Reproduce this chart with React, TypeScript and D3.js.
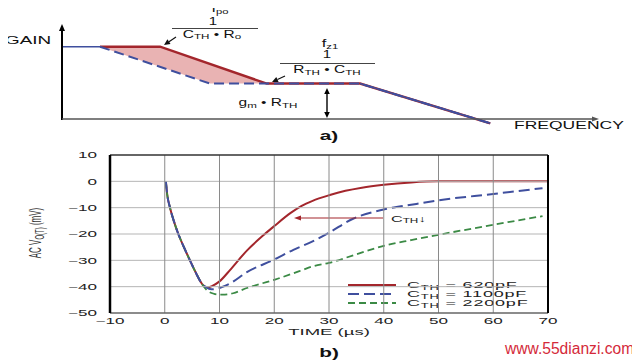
import React from "react";
import * as d3 from "d3";

// ---------- Panel a (schematic gain vs frequency) ----------
const topRedPts: [number, number][] = [[7.1, 10], [18.3, 10], [38.2, 4.9], [55.6, 4.9], [79.9, -0.6]];
const topBluePts: [number, number][] = [[7.1, 10], [27.6, 4.9], [55.6, 4.9], [79.9, -0.6]];
const topBlueFlat: [number, number][] = [[0, 10], [7.1, 10]];
const topFill: [number, number][] = [[7.1, 10], [18.3, 10], [38.2, 4.9], [27.6, 4.9]];

// ---------- Panel b (transient) ----------
const xTicks = [-10, 0, 10, 20, 30, 40, 50, 60, 70];
const yTicks = [10, 0, -10, -20, -30, -40, -50];
const startDrop: [number, number][] = [[0.2, 0], [0.45, -5], [0.96, -10], [1.65, -15], [2.48, -20], [3.5, -25], [4.6, -30], [5.75, -35]];
const red620: [number, number][] = [...startDrop, [6.6, -38.3], [7.35, -40], [7.9, -40.2], [8.7, -39.7], [10, -38], [12, -33.5], [15, -26.3], [18, -20.5], [20, -17], [23, -12], [25, -9.3], [27, -7.4], [30, -5.3], [33, -3.6], [36, -2.4], [40, -1.3], [45, -0.4], [50, 0], [60, 0], [70, 0]];
const blue1100: [number, number][] = [...startDrop, [6.6, -38.3], [7.6, -40.3], [8.5, -41], [9.5, -40.8], [10, -40.5], [12, -38.7], [15, -34.5], [20, -29.7], [23.5, -26], [27, -22.8], [30, -19.5], [34.4, -14.2], [40, -10.7], [45, -8.9], [50, -7.2], [60, -4.8], [69, -2.6]];
const green2200: [number, number][] = [...startDrop, [6.8, -39], [7.8, -41.5], [9, -42.7], [10, -43], [11, -43], [12.5, -42.5], [15, -40.5], [20, -37.4], [25, -33.8], [27, -32.3], [30, -31], [35, -27.7], [40, -24.5], [45, -22.3], [50, -20.3], [60, -16.5], [69, -13.2]];
const legendLabels = ["620pF", "1100pF", "2200pF"];

const RED = "#a3262c";
const BLUE = "#3f4f9e";
const GREEN = "#3b8a45";
const FONT = "'Liberation Sans', Arial, sans-serif";

function T({ x, y, sx = 1.8, size = 9, anchor = "start", weight = "normal", fill = "#222", rot = 0, children, ls = 0 }: any) {
  return (
    <text
      transform={`translate(${x},${y}) scale(${sx},1)${rot ? ` rotate(${rot})` : ""}`}
      fontSize={size}
      fontFamily={FONT}
      textAnchor={anchor}
      fontWeight={weight}
      fill={fill}
      letterSpacing={ls}
    >
      {children}
    </text>
  );
}

function Arrow({ x1, y1, x2, y2, color = "#111", w = 1.2, len = 6, half = 2.8 }: any) {
  const a = Math.atan2(y2 - y1, x2 - x1);
  const bx = x2 - len * Math.cos(a), by = y2 - len * Math.sin(a);
  const px = -Math.sin(a) * half, py = Math.cos(a) * half;
  return (
    <g>
      <path d={`M${x1},${y1}L${bx},${by}`} stroke={color} strokeWidth={w} fill="none" />
      <path d={`M${x2},${y2}L${bx + px},${by + py}L${bx - px},${by - py}Z`} fill={color} stroke="none" />
    </g>
  );
}

export default function App() {
  const xa = d3.scaleLinear().domain([0, 100]).range([62, 598]);
  const ya = d3.scaleLinear().domain([0, 10]).range([119, 46.7]);
  const lineA = d3.line<[number, number]>().x((d) => xa(d[0])).y((d) => ya(d[1]));

  const sx = d3.scaleLinear().domain([-10, 70]).range([110, 548]);
  const sy = d3.scaleLinear().domain([-50, 10]).range([313, 155]);
  const line = d3.line<[number, number]>().x((d) => sx(d[0])).y((d) => sy(d[1])).curve(d3.curveMonotoneX);

  const X0 = sx(-10), X1 = sx(70), Y0 = sy(-50), Y1 = sy(10);
  const hGrid = yTicks.filter((v) => v > -50 && v < 10).map((v) => `M${X0},${sy(v)}H${X1}`).join("");
  const vGrid = xTicks.filter((v) => v > -10 && v < 70).map((v) => `M${sx(v)},${Y1}V${Y0}`).join("");

  const legY = [285, 294, 303];
  const legStyles = [
    { c: RED, dash: undefined as any },
    { c: BLUE, dash: "11,5" },
    { c: GREEN, dash: "7,4" },
  ];

  const abs: any = { position: "absolute", left: 0, top: 0 };

  return (
    <div style={{ position: "relative", left: -8, top: -8, width: 640, height: 360 }}>
      <svg width={640} height={360} style={abs}>
        {yTicks.map((v) => (
          <T key={"ly" + v} x={97} y={sy(v) + 3.2} size={9} sx={1.9} anchor="end" fill="#222">
            {v < 0 ? "\u2212" + Math.abs(v) : String(v)}
          </T>
        ))}
        {xTicks.map((v) => (
          <T key={"lx" + v} x={sx(v)} y={324} size={9} sx={1.9} anchor="middle" fill="#222">
            {v < 0 ? "\u2212" + Math.abs(v) : String(v)}
          </T>
        ))}

        <path d={line(red620)!} fill="none" stroke={RED} strokeWidth={2} />
        <path d={line(green2200)!} fill="none" stroke={GREEN} strokeWidth={1.8} strokeDasharray="7,4" />
        <path d={line(blue1100)!} fill="none" stroke={BLUE} strokeWidth={2} strokeDasharray="11,5" />

        <Arrow x1={383} y1={218} x2={294} y2={218} color={RED} w={1.2} len={7} half={2.5} />
        <T x={391} y={221.5} size={9} sx={1.8} fill="#222">
          C<tspan fontSize={6.5} dy={1.5}>TH</tspan><tspan dy={-1.5}>↓</tspan>
        </T>

        {legendLabels.map((lab, i) => (
          <g key={lab}>
            <path d={`M348,${legY[i]}H396`} stroke={legStyles[i].c} strokeWidth={2} strokeDasharray={legStyles[i].dash} fill="none" />
            <T x={407} y={legY[i] + 3.3} size={9} sx={2.0} ls={0.4} fill="#222">
              C<tspan fontSize={6.5} dy={1.2}>TH</tspan><tspan dy={-1.2}> = {lab}</tspan>
            </T>
          </g>
        ))}

        <T x={329} y={335} size={9.5} sx={1.95} anchor="middle" fill="#222">TIME (µs)</T>
        <T x={41} y={233} size={8} sx={2.0} rot={-90} anchor="middle" fill="#333">
          AC V<tspan fontSize={6} dy={1.5}>O(T)</tspan><tspan dy={-1.5}> (mV)</tspan>
        </T>
        <T x={329} y={357} size={13} sx={1.6} weight="bold" anchor="middle" fill="#111">b)</T>

        {/* Panel a */}
        <path d={lineA(topFill)! + "Z"} fill="#e9b3b3" stroke="none" />
        <path d={lineA(topBlueFlat)!} fill="none" stroke={BLUE} strokeWidth={1.5} />
        <path d={lineA(topRedPts)!} fill="none" stroke={RED} strokeWidth={2.4} />
        <path d={lineA(topBluePts)!} fill="none" stroke={BLUE} strokeWidth={2} strokeDasharray="10,5" />
        <path d={lineA(topRedPts.slice(3))!} fill="none" stroke={BLUE} strokeWidth={1.6} />
        <Arrow x1={62} y1={120} x2={62} y2={24} color="#000" w={2} len={7} half={3} />
        <Arrow x1={62} y1={119} x2={599} y2={119} color="#555" w={1.5} len={7} half={2.5} />
        <T x={5} y={44} size={10.5} sx={1.8} fill="#111">GAIN</T>
        <T x={514} y={129} size={10} sx={1.75} fill="#111">FREQUENCY</T>

        <T x={220} y={12} size={11} sx={1.5} anchor="middle" fill="#111">
          f<tspan fontSize={7.5} dy={2}>po</tspan>
        </T>
        <T x={213} y={25} size={10} sx={1.5} anchor="middle" fill="#111">1</T>
        <path d="M172,28.5H258" stroke="#444" strokeWidth={1} fill="none" />
        <T x={212} y={37.5} size={10} sx={1.55} anchor="middle" fill="#111">
          C<tspan fontSize={7.5} dy={1.5}>TH</tspan><tspan dy={-1.5}> • R</tspan><tspan fontSize={7.5} dy={1.5}>o</tspan>
        </T>
        <Arrow x1={176} y1={37} x2={164} y2={45} />

        <T x={330} y={47} size={11} sx={1.5} anchor="middle" fill="#111">
          f<tspan fontSize={7.5} dy={2}>z1</tspan>
        </T>
        <T x={327} y={58} size={10} sx={1.5} anchor="middle" fill="#111">1</T>
        <path d="M280,63.5H375" stroke="#444" strokeWidth={1} fill="none" />
        <T x={327} y={73} size={10} sx={1.55} anchor="middle" fill="#111">
          R<tspan fontSize={7.5} dy={1.5}>TH</tspan><tspan dy={-1.5}> • C</tspan><tspan fontSize={7.5} dy={1.5}>TH</tspan>
        </T>
        <Arrow x1={285} y1={76} x2={272} y2={82} />

        <T x={268} y={106} size={10} sx={1.55} anchor="middle" fill="#111">
          g<tspan fontSize={7.5} dy={1.5}>m</tspan><tspan dy={-1.5}> • R</tspan><tspan fontSize={7.5} dy={1.5}>TH</tspan>
        </T>
        <Arrow x1={327} y1={103} x2={327} y2={88} color="#000" w={1.4} />
        <Arrow x1={327} y1={103} x2={327} y2={118} color="#000" w={1.4} />
        <T x={329} y={140} size={13} sx={1.6} weight="bold" anchor="middle" fill="#111">a)</T>

        <text x={505} y={354} fontSize={15.6} fontFamily={FONT} fill="#d42a3a">www.55dianzi.com</text>
      </svg>

      {/* grid and frame of panel b in its own layer */}
      <svg width={640} height={360} style={{ ...abs, pointerEvents: "none" }}>
        <path d={hGrid} stroke="#b5b5b5" strokeWidth={1} fill="none" />
        <path d={vGrid} stroke="#8a8a8a" strokeWidth={1} fill="none" />
        <path d={`M${X0},${Y1}H${X1}`} stroke="#333" strokeWidth={1.5} fill="none" />
        <path d={`M${X0},${Y0}H${X1}`} stroke="#666" strokeWidth={1.5} fill="none" />
        <path d={`M${X0},${Y1}V${Y0}`} stroke="#000" strokeWidth={2.5} fill="none" />
        <path d={`M${X1},${Y1}V${Y0}`} stroke="#000" strokeWidth={2} fill="none" />
      </svg>
    </div>
  );
}
